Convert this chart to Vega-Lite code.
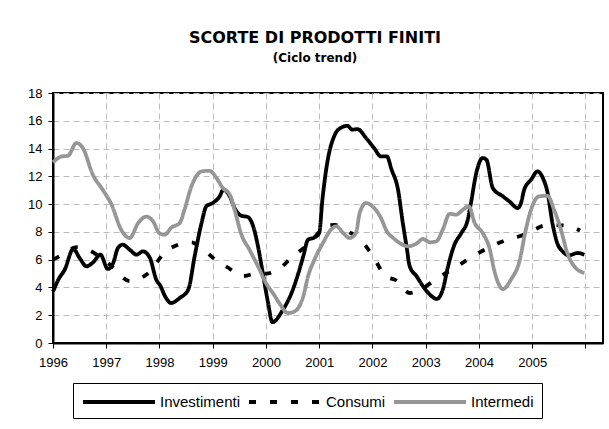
{
  "$schema": "https://vega.github.io/schema/vega-lite/v6.json",
  "width": 550,
  "height": 250,
  "autosize": {"type": "none"},
  "padding": {"left": 53, "top": 93, "right": 6, "bottom": 86},
  "background": "white",
  "title": {
    "text": "SCORTE DI PRODOTTI FINITI",
    "subtitle": "(Ciclo trend)",
    "font": "DejaVu Sans",
    "fontSize": 16,
    "fontWeight": "bold",
    "color": "black",
    "subtitleFont": "DejaVu Sans",
    "subtitleFontSize": 12,
    "subtitleFontWeight": "bold",
    "subtitleColor": "black",
    "subtitlePadding": 7,
    "anchor": "middle",
    "frame": "group",
    "dx": -13,
    "offset": 23
  },
  "datasets": {
    "series": [
      {"s": "Investimenti", "t": 1996.0, "v": 3.7},
      {"s": "Investimenti", "t": 1996.1, "v": 4.56},
      {"s": "Investimenti", "t": 1996.22, "v": 5.28},
      {"s": "Investimenti", "t": 1996.38, "v": 6.77},
      {"s": "Investimenti", "t": 1996.5, "v": 6.12},
      {"s": "Investimenti", "t": 1996.63, "v": 5.52},
      {"s": "Investimenti", "t": 1996.75, "v": 5.8},
      {"s": "Investimenti", "t": 1996.89, "v": 6.36},
      {"s": "Investimenti", "t": 1997.03, "v": 5.33},
      {"s": "Investimenti", "t": 1997.13, "v": 5.76},
      {"s": "Investimenti", "t": 1997.22, "v": 6.84},
      {"s": "Investimenti", "t": 1997.31, "v": 7.08},
      {"s": "Investimenti", "t": 1997.44, "v": 6.72},
      {"s": "Investimenti", "t": 1997.57, "v": 6.36},
      {"s": "Investimenti", "t": 1997.69, "v": 6.6},
      {"s": "Investimenti", "t": 1997.82, "v": 6.12},
      {"s": "Investimenti", "t": 1997.94, "v": 4.56},
      {"s": "Investimenti", "t": 1998.02, "v": 4.1},
      {"s": "Investimenti", "t": 1998.1, "v": 3.4},
      {"s": "Investimenti", "t": 1998.22, "v": 2.88},
      {"s": "Investimenti", "t": 1998.38, "v": 3.24},
      {"s": "Investimenti", "t": 1998.54, "v": 3.84},
      {"s": "Investimenti", "t": 1998.66, "v": 6.24},
      {"s": "Investimenti", "t": 1998.79, "v": 8.64},
      {"s": "Investimenti", "t": 1998.88, "v": 9.84},
      {"s": "Investimenti", "t": 1999.0, "v": 10.08},
      {"s": "Investimenti", "t": 1999.13, "v": 10.56},
      {"s": "Investimenti", "t": 1999.2, "v": 11.04},
      {"s": "Investimenti", "t": 1999.32, "v": 10.56},
      {"s": "Investimenti", "t": 1999.41, "v": 9.72},
      {"s": "Investimenti", "t": 1999.54, "v": 9.16},
      {"s": "Investimenti", "t": 1999.66, "v": 9.07},
      {"s": "Investimenti", "t": 1999.76, "v": 8.4},
      {"s": "Investimenti", "t": 1999.85, "v": 6.96},
      {"s": "Investimenti", "t": 1999.94, "v": 5.04},
      {"s": "Investimenti", "t": 2000.04, "v": 2.88},
      {"s": "Investimenti", "t": 2000.12, "v": 1.5},
      {"s": "Investimenti", "t": 2000.32, "v": 2.4},
      {"s": "Investimenti", "t": 2000.48, "v": 3.6},
      {"s": "Investimenti", "t": 2000.6, "v": 4.92},
      {"s": "Investimenti", "t": 2000.7, "v": 6.24},
      {"s": "Investimenti", "t": 2000.79, "v": 7.44},
      {"s": "Investimenti", "t": 2000.91, "v": 7.6},
      {"s": "Investimenti", "t": 2001.0, "v": 7.92},
      {"s": "Investimenti", "t": 2001.06, "v": 10.32},
      {"s": "Investimenti", "t": 2001.15, "v": 12.96},
      {"s": "Investimenti", "t": 2001.28, "v": 14.88},
      {"s": "Investimenti", "t": 2001.4, "v": 15.48},
      {"s": "Investimenti", "t": 2001.53, "v": 15.64},
      {"s": "Investimenti", "t": 2001.62, "v": 15.36},
      {"s": "Investimenti", "t": 2001.72, "v": 15.4},
      {"s": "Investimenti", "t": 2001.88, "v": 14.76},
      {"s": "Investimenti", "t": 2002.03, "v": 14.04},
      {"s": "Investimenti", "t": 2002.16, "v": 13.43},
      {"s": "Investimenti", "t": 2002.27, "v": 13.43},
      {"s": "Investimenti", "t": 2002.36, "v": 12.48},
      {"s": "Investimenti", "t": 2002.48, "v": 11.04},
      {"s": "Investimenti", "t": 2002.57, "v": 8.64},
      {"s": "Investimenti", "t": 2002.64, "v": 6.96},
      {"s": "Investimenti", "t": 2002.7, "v": 5.52},
      {"s": "Investimenti", "t": 2002.83, "v": 4.8},
      {"s": "Investimenti", "t": 2002.95, "v": 4.08},
      {"s": "Investimenti", "t": 2003.08, "v": 3.48},
      {"s": "Investimenti", "t": 2003.21, "v": 3.17},
      {"s": "Investimenti", "t": 2003.32, "v": 3.84},
      {"s": "Investimenti", "t": 2003.42, "v": 5.52},
      {"s": "Investimenti", "t": 2003.54, "v": 7.08},
      {"s": "Investimenti", "t": 2003.67, "v": 7.92},
      {"s": "Investimenti", "t": 2003.79, "v": 8.88},
      {"s": "Investimenti", "t": 2003.85, "v": 10.08},
      {"s": "Investimenti", "t": 2003.95, "v": 12.24},
      {"s": "Investimenti", "t": 2004.07, "v": 13.32},
      {"s": "Investimenti", "t": 2004.14, "v": 13.2},
      {"s": "Investimenti", "t": 2004.26, "v": 11.16},
      {"s": "Investimenti", "t": 2004.45, "v": 10.56},
      {"s": "Investimenti", "t": 2004.57, "v": 10.2},
      {"s": "Investimenti", "t": 2004.73, "v": 9.72},
      {"s": "Investimenti", "t": 2004.79, "v": 10.08},
      {"s": "Investimenti", "t": 2004.85, "v": 11.04},
      {"s": "Investimenti", "t": 2004.98, "v": 11.76},
      {"s": "Investimenti", "t": 2005.1, "v": 12.36},
      {"s": "Investimenti", "t": 2005.2, "v": 11.88},
      {"s": "Investimenti", "t": 2005.29, "v": 10.8},
      {"s": "Investimenti", "t": 2005.38, "v": 8.64},
      {"s": "Investimenti", "t": 2005.47, "v": 7.2},
      {"s": "Investimenti", "t": 2005.57, "v": 6.6},
      {"s": "Investimenti", "t": 2005.69, "v": 6.31},
      {"s": "Investimenti", "t": 2005.85, "v": 6.48},
      {"s": "Investimenti", "t": 2005.98, "v": 6.36},

      {"s": "Consumi", "t": 1996.0, "v": 6.0},
      {"s": "Consumi", "t": 1996.15, "v": 6.3},
      {"s": "Consumi", "t": 1996.45, "v": 6.9},
      {"s": "Consumi", "t": 1996.6, "v": 6.8},
      {"s": "Consumi", "t": 1997.05, "v": 5.7},
      {"s": "Consumi", "t": 1997.45, "v": 4.45},
      {"s": "Consumi", "t": 1997.78, "v": 5.0},
      {"s": "Consumi", "t": 1998.15, "v": 6.7},
      {"s": "Consumi", "t": 1998.6, "v": 7.25},
      {"s": "Consumi", "t": 1998.7, "v": 7.1},
      {"s": "Consumi", "t": 1999.08, "v": 5.9},
      {"s": "Consumi", "t": 1999.3, "v": 5.4},
      {"s": "Consumi", "t": 1999.45, "v": 5.0},
      {"s": "Consumi", "t": 1999.55, "v": 4.8},
      {"s": "Consumi", "t": 1999.9, "v": 5.1},
      {"s": "Consumi", "t": 2000.0, "v": 5.0},
      {"s": "Consumi", "t": 2000.3, "v": 5.5},
      {"s": "Consumi", "t": 2000.44, "v": 6.0},
      {"s": "Consumi", "t": 2000.82, "v": 7.2},
      {"s": "Consumi", "t": 2001.15, "v": 8.45},
      {"s": "Consumi", "t": 2001.3, "v": 8.5},
      {"s": "Consumi", "t": 2001.6, "v": 7.9},
      {"s": "Consumi", "t": 2001.7, "v": 7.7},
      {"s": "Consumi", "t": 2002.0, "v": 6.3},
      {"s": "Consumi", "t": 2002.25, "v": 4.8},
      {"s": "Consumi", "t": 2002.45, "v": 4.5},
      {"s": "Consumi", "t": 2002.7, "v": 3.6},
      {"s": "Consumi", "t": 2003.05, "v": 4.2},
      {"s": "Consumi", "t": 2003.15, "v": 4.5},
      {"s": "Consumi", "t": 2003.5, "v": 5.3},
      {"s": "Consumi", "t": 2004.0, "v": 6.5},
      {"s": "Consumi", "t": 2004.4, "v": 7.25},
      {"s": "Consumi", "t": 2004.85, "v": 7.8},
      {"s": "Consumi", "t": 2005.3, "v": 8.5},
      {"s": "Consumi", "t": 2005.65, "v": 8.45},
      {"s": "Consumi", "t": 2005.9, "v": 8.1},

      {"s": "Intermedi", "t": 1996.0, "v": 13.0},
      {"s": "Intermedi", "t": 1996.16, "v": 13.43},
      {"s": "Intermedi", "t": 1996.28, "v": 13.48},
      {"s": "Intermedi", "t": 1996.44, "v": 14.4},
      {"s": "Intermedi", "t": 1996.56, "v": 14.04},
      {"s": "Intermedi", "t": 1996.75, "v": 12.1},
      {"s": "Intermedi", "t": 1996.94, "v": 11.0},
      {"s": "Intermedi", "t": 1997.1, "v": 9.96},
      {"s": "Intermedi", "t": 1997.28, "v": 8.16},
      {"s": "Intermedi", "t": 1997.44, "v": 7.56},
      {"s": "Intermedi", "t": 1997.6, "v": 8.64},
      {"s": "Intermedi", "t": 1997.75, "v": 9.1},
      {"s": "Intermedi", "t": 1997.88, "v": 8.76},
      {"s": "Intermedi", "t": 1998.0, "v": 7.9},
      {"s": "Intermedi", "t": 1998.1, "v": 7.8},
      {"s": "Intermedi", "t": 1998.22, "v": 8.3},
      {"s": "Intermedi", "t": 1998.38, "v": 8.64},
      {"s": "Intermedi", "t": 1998.47, "v": 9.6},
      {"s": "Intermedi", "t": 1998.6, "v": 11.28},
      {"s": "Intermedi", "t": 1998.79, "v": 12.35},
      {"s": "Intermedi", "t": 1998.94, "v": 12.4},
      {"s": "Intermedi", "t": 1999.07, "v": 11.88},
      {"s": "Intermedi", "t": 1999.19, "v": 11.16},
      {"s": "Intermedi", "t": 1999.32, "v": 10.68},
      {"s": "Intermedi", "t": 1999.41, "v": 9.6},
      {"s": "Intermedi", "t": 1999.54, "v": 7.8},
      {"s": "Intermedi", "t": 1999.69, "v": 6.72},
      {"s": "Intermedi", "t": 1999.85, "v": 5.52},
      {"s": "Intermedi", "t": 2000.0, "v": 4.32},
      {"s": "Intermedi", "t": 2000.15, "v": 3.48},
      {"s": "Intermedi", "t": 2000.25, "v": 2.88},
      {"s": "Intermedi", "t": 2000.41, "v": 2.16},
      {"s": "Intermedi", "t": 2000.54, "v": 2.28},
      {"s": "Intermedi", "t": 2000.7, "v": 3.36},
      {"s": "Intermedi", "t": 2000.79, "v": 4.8},
      {"s": "Intermedi", "t": 2000.91, "v": 6.0},
      {"s": "Intermedi", "t": 2001.07, "v": 7.2},
      {"s": "Intermedi", "t": 2001.22, "v": 8.16},
      {"s": "Intermedi", "t": 2001.32, "v": 8.4},
      {"s": "Intermedi", "t": 2001.45, "v": 7.92},
      {"s": "Intermedi", "t": 2001.57, "v": 7.56},
      {"s": "Intermedi", "t": 2001.69, "v": 7.92},
      {"s": "Intermedi", "t": 2001.76, "v": 9.36},
      {"s": "Intermedi", "t": 2001.88, "v": 10.08},
      {"s": "Intermedi", "t": 2002.0, "v": 9.84},
      {"s": "Intermedi", "t": 2002.16, "v": 9.0},
      {"s": "Intermedi", "t": 2002.27, "v": 8.04},
      {"s": "Intermedi", "t": 2002.39, "v": 7.56},
      {"s": "Intermedi", "t": 2002.51, "v": 7.2},
      {"s": "Intermedi", "t": 2002.67, "v": 6.96},
      {"s": "Intermedi", "t": 2002.82, "v": 7.15},
      {"s": "Intermedi", "t": 2002.95, "v": 7.49},
      {"s": "Intermedi", "t": 2003.08, "v": 7.25},
      {"s": "Intermedi", "t": 2003.2, "v": 7.32},
      {"s": "Intermedi", "t": 2003.32, "v": 8.16},
      {"s": "Intermedi", "t": 2003.45, "v": 9.3},
      {"s": "Intermedi", "t": 2003.57, "v": 9.24},
      {"s": "Intermedi", "t": 2003.7, "v": 9.6},
      {"s": "Intermedi", "t": 2003.81, "v": 9.84},
      {"s": "Intermedi", "t": 2003.92, "v": 8.64},
      {"s": "Intermedi", "t": 2004.07, "v": 7.92},
      {"s": "Intermedi", "t": 2004.2, "v": 6.8},
      {"s": "Intermedi", "t": 2004.29, "v": 5.2},
      {"s": "Intermedi", "t": 2004.45, "v": 3.88},
      {"s": "Intermedi", "t": 2004.6, "v": 4.56},
      {"s": "Intermedi", "t": 2004.76, "v": 5.88},
      {"s": "Intermedi", "t": 2004.88, "v": 8.16},
      {"s": "Intermedi", "t": 2005.0, "v": 9.84},
      {"s": "Intermedi", "t": 2005.13, "v": 10.56},
      {"s": "Intermedi", "t": 2005.29, "v": 10.6},
      {"s": "Intermedi", "t": 2005.41, "v": 9.6},
      {"s": "Intermedi", "t": 2005.54, "v": 8.16},
      {"s": "Intermedi", "t": 2005.66, "v": 6.48},
      {"s": "Intermedi", "t": 2005.79, "v": 5.52},
      {"s": "Intermedi", "t": 2005.98, "v": 5.04}
    ]
  },
  "data": {"name": "series"},
  "mark": {"type": "line", "strokeWidth": 3.8, "interpolate": "monotone", "strokeCap": "butt"},
  "encoding": {
    "x": {
      "field": "t",
      "type": "quantitative",
      "title": null,
      "scale": {"domain": [1996, 2006.33], "nice": false, "zero": false},
      "axis": {
        "values": [1996, 1997, 1998, 1999, 2000, 2001, 2002, 2003, 2004, 2005, 2006],
        "labelExpr": "datum.value > 2005 ? '' : format(datum.value, 'd')",
        "grid": true,
        "gridColor": "#bdbdbd",
        "gridDash": [6, 4],
        "gridWidth": 1,
        "domainColor": "black",
        "domainWidth": 2,
        "tickColor": "black",
        "tickSize": 5,
        "tickWidth": 1,
        "labelFont": "Liberation Sans",
        "labelFontSize": 13,
        "labelColor": "black",
        "labelPadding": 8,
        "labelFlush": false,
        "labelOverlap": false
      }
    },
    "y": {
      "field": "v",
      "type": "quantitative",
      "title": null,
      "scale": {"domain": [0, 18], "nice": false},
      "axis": {
        "values": [0, 2, 4, 6, 8, 10, 12, 14, 16, 18],
        "grid": true,
        "gridColor": "#bdbdbd",
        "gridDash": [6, 4],
        "gridWidth": 1,
        "domainColor": "black",
        "domainWidth": 2,
        "tickColor": "black",
        "tickSize": 5,
        "tickWidth": 1,
        "labelFont": "Liberation Sans",
        "labelFontSize": 13,
        "labelColor": "black",
        "labelPadding": 6,
        "labelFlush": false,
        "labelOverlap": false
      }
    },
    "color": {
      "field": "s",
      "type": "nominal",
      "title": null,
      "scale": {"domain": ["Investimenti", "Consumi", "Intermedi"], "range": ["#000000", "#000000", "#969696"]},
      "legend": {"title": null}
    },
    "strokeDash": {
      "field": "s",
      "type": "nominal",
      "title": null,
      "scale": {"domain": ["Investimenti", "Consumi", "Intermedi"], "range": [[1, 0], [7, 14], [1, 0]]},
      "legend": {"title": null}
    }
  },
  "config": {
    "view": {"stroke": "black", "strokeWidth": 2},
    "legend": {
      "orient": "none",
      "legendX": 20,
      "legendY": 290,
      "direction": "horizontal",
      "strokeColor": "black",
      "strokeWidth": 1,
      "fillColor": "white",
      "padding": 8,
      "symbolType": "M-4,0L4,0",
      "symbolSize": 324,
      "symbolOffset": 27,
      "symbolStrokeWidth": 4,
      "labelFont": "Liberation Sans",
      "labelFontSize": 15,
      "labelColor": "black",
      "labelOffset": 30,
      "columnPadding": 0,
      "labelLimit": 200
    }
  }
}
